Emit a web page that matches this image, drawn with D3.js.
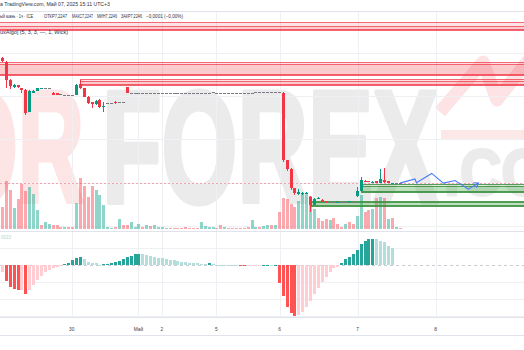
<!DOCTYPE html>
<html>
<head>
<meta charset="utf-8">
<script src="https://cdn.jsdelivr.net/npm/d3@7/dist/d3.min.js"></script>
<style>
  html, body { margin: 0; padding: 0; background: #fff; overflow: hidden; }
  #chart svg { display: block; }
</style>
</head>
<body>
<div id="chart"></div>
<script>
// hourly bars [open, high, low, close]; a single number is a flat bar (o = h = l = c)
const ohlc = [
  [7.2969, 7.2975, 7.2946, 7.2952],
  [7.2946, 7.2952, 7.2796, 7.2842],
  [7.2842, 7.2846, 7.2788, 7.2808],
  [7.2800, 7.2818, 7.2797, 7.2814],
  [7.2811, 7.2814, 7.2797, 7.2800],
  [7.2794, 7.2796, 7.2769, 7.2785],
  [7.2785, 7.2788, 7.2640, 7.2650],
  [7.2659, 7.2785, 7.2655, 7.2781],
  [7.2769, 7.2785, 7.2767, 7.2781],
  [7.2781, 7.2799, 7.2779, 7.2796],
  [7.2794, 7.2796, 7.2794, 7.2796],
  7.2794, 7.2794,
  [7.2769, 7.2771, 7.2754, 7.2756],
  [7.2767, 7.2769, 7.2754, 7.2756],
  [7.2756, 7.2764, 7.2754, 7.2762],
  7.2756, 7.2756, 7.2756,
  [7.2756, 7.2817, 7.2754, 7.2814],
  [7.2818, 7.2842, 7.2792, 7.2794],
  [7.2794, 7.2796, 7.2744, 7.2746],
  [7.2746, 7.2748, 7.2705, 7.2708],
  [7.2714, 7.2717, 7.2679, 7.2704],
  [7.2704, 7.2727, 7.2700, 7.2723],
  [7.2727, 7.2730, 7.2682, 7.2685],
  [7.2685, 7.2717, 7.2659, 7.2692],
  7.2708, 7.2708,
  [7.2717, 7.2719, 7.2706, 7.2708],
  7.2714, 7.2714,
  [7.2800, 7.2802, 7.2767, 7.2769],
  7.2769, 7.2769, 7.2769, 7.2769, 7.2769, 7.2769, 7.2769,
  7.2769, 7.2769, 7.2769, 7.2769, 7.2769, 7.2769, 7.2769,
  7.2769, 7.2769, 7.2769, 7.2769, 7.2769, 7.2769, 7.2769,
  7.2775,
  7.2767, 7.2767, 7.2767, 7.2767, 7.2767, 7.2767, 7.2767, 7.2767, 7.2767, 7.2767,
  7.2771, 7.2771, 7.2771, 7.2771, 7.2771, 7.2771, 7.2771,
  [7.2769, 7.2771, 7.2369, 7.2381],
  [7.2381, 7.2383, 7.2317, 7.2329],
  [7.2329, 7.2334, 7.2207, 7.2219],
  [7.2219, 7.2221, 7.2178, 7.2190],
  [7.2184, 7.2213, 7.2178, 7.2196],
  [7.2184, 7.2196, 7.2181, 7.2190],
  [7.2190, 7.2196, 7.2186, 7.2192],
  [7.2167, 7.2170, 7.2080, 7.2121],
  [7.2122, 7.2161, 7.2119, 7.2157],
  [7.2157, 7.2164, 7.2155, 7.2161],
  [7.2151, 7.2155, 7.2136, 7.2138],
  [7.2142, 7.2144, 7.2135, 7.2136],
  7.2138, 7.2138,
  [7.2135, 7.2142, 7.2133, 7.2140],
  7.2140, 7.2140,
  [7.2140, 7.2144, 7.2140, 7.2142],
  7.2140,
  [7.2171, 7.2225, 7.2167, 7.2200],
  [7.2200, 7.2284, 7.2198, 7.2267],
  [7.2261, 7.2265, 7.2251, 7.2253],
  [7.2259, 7.2261, 7.2251, 7.2253],
  [7.2253, 7.2257, 7.2251, 7.2255],
  [7.2257, 7.2259, 7.2248, 7.2249],
  [7.2249, 7.2329, 7.2248, 7.2271],
  [7.2265, 7.2334, 7.2248, 7.2255],
  [7.2259, 7.2261, 7.2246, 7.2248],
  [7.2248, 7.2249, 7.2247, 7.2248],
  7.2247,
  [7.2247, 7.2247, 7.2246, 7.2246],
]

const volumes = [
  217, 480, 393, 210, 303, 450, 377, 417, 353, 193,
  37, 73, 50, 40, 40, 20, 20, 17, 23, 257,
  507, 430, 323, 430, 390, 340, 240, 20, 10, 20,
  97, 40, 40, 70, 20, 50, 20, 40, 30, 40,
  20, 23, 10, 10, 10, 15, 10, 20, 10, 15,
  10, 73, 30, 20, 20, 10, 40, 20, 15, 10,
  15, 10, 15, 20, 90, 20, 20, 30, 40, 40,
  43, 173, 315, 300, 250, 223, 280, 350, 355, 330,
  200, 110, 83, 100, 90, 110, 50, 23, 50, 67,
  50, 135, 340, 170, 190, 200, 310, 317, 310, 100,
  110, 20, 15,
]
// g = up volume, r = down volume
const volumeDirs =
  'rrrgrrrggg' + 'rggrrrgrrg' + 'rrrrgggggr' + 'grrgggrgrg' + 'gggrrrrrrr' +
  'rggggrrgrr' + 'rrrrggrggr' + 'grrrrrgggg' + 'grrrgrrrgr' + 'rggrrgrgrg' + 'rgr'

// oscillator histogram (lower pane)
const histogram = [
  -6.4, -15.7, -21.4, -24, -25, -24.5, -29, -24.7, -19.7, -14.7,
  -10.3, -7, -4.7, -3, -2, -1, 1.3, 2.7, 5.3, 7,
  8, 6, 3.7, 2.7, 2, 0.8, 1, 1.3, 2, 3.7,
  4.7, 6, 8, 9.7, 11, 11.3, 11, 10.3, 9.7, 8.7,
  7.7, 7, 6.3, 5.7, 5, 4.3, 3.7, 3, 2.7, 2.3,
  2, 1.7, 1.3, 2, 1, 0.8, 0.7, 0.6, 0.5, 0.4,
  0.3, -0.3, -0.4, -0.4, -0.3, -0.2, -0.2, 0.3, 0.4, 0.3,
  0.3, -18, -31, -42, -48, -50.5, -49.5, -47, -42, -36,
  -29, -23, -17, -11.5, -6.5, -3, -1.2, 2.6, 6, 8.6,
  11.3, 15.3, 21, 24.6, 26, 26.6, 26, 24.6, 23, 19.6,
  17, null, null,
]

const dayTickIndex = [17.9, 35, 41, 55, 71.2, 91.2, 111.2]
const dayTickLabels = ['30', 'Май', '2', '5', '6', '7', '8']
const priceGrid = [7.325, 7.3, 7.275, 7.25, 7.225, 7.2]
const histGrid = [17, 0, -17, -34, -51]

const bearBlocks = [
  { from: -2, top: 7.3177, bottom: 7.3131 },
  { from: -2, top: 7.3157, bottom: 7.3137 },
  { from: -2, top: 7.2945, bottom: 7.2870 },
  { from: -2, top: 7.2935, bottom: 7.2877 },
  { from: 20, top: 7.2846, bottom: 7.2815 },
  { from: 20, top: 7.2837, bottom: 7.2821 },
]
const bullBlocks = [
  { from: 92, top: 7.2242, bottom: 7.2197 },
  { from: 92, top: 7.2233, bottom: 7.2204 },
  { from: 79, top: 7.2146, bottom: 7.2117 },
  { from: 79, top: 7.2138, bottom: 7.2122 },
]

const forecastIndex = [102.1, 105.9, 106.3, 110.2, 113.2, 116.2, 119.6, 122.2]
const forecastPrice = [7.2247, 7.2271, 7.2250, 7.2303, 7.2247, 7.2262, 7.2212, 7.2247]
const lastPrice = 7.2246

const headerTitle = 'а TradingView.com, Май 07, 2025 15:11 UTC+3'
const legendParts = ['ый юань · 1ч · ICE', 'ОТКР7,2247', 'МАКС7,2247', 'МИН7,2246', 'ЗАКР7,2246', '−0,0001 (−0,00%)']
const indicatorTitle = 'uxAlgo] (5, 3, 3, —, 1, Wick)'
const histLabel = '0010'

renderChart({ chartContainerSelector: '#chart', width: 524, height: 350 })

function renderChart({ chartContainerSelector, width, height }) {
  const upColor = '#089981'
  const downColor = '#f23645'
  const flatColor = '#787b86'
  const gridColor = '#eef0f4'
  const font = "'Liberation Sans', Arial, sans-serif"

  const paneTop = 11
  const paneSplit = 231
  const paneBottom = 317
  const axisBottom = 335

  const x = d3.scaleLinear().domain([0, 1]).range([1.9, 5.8])
  const y = d3.scaleLinear().domain([7.3, 7.275]).range([52.7, 96])
  const yVol = d3.scaleLinear().domain([0, 500]).range([229, 179])
  const yHist = d3.scaleLinear().domain([0, 17]).range([265.3, 248.3])

  const bars = ohlc.map((d, i) => {
    const [o, h, l, c] = Array.isArray(d) ? d : [d, d, d, d]
    const flat = o === c && h === l
    return { i, o, h, l, c, color: flat ? flatColor : c >= o ? upColor : downColor }
  })
  const px = i => Math.round(x(i))

  const svg = d3
    .select(chartContainerSelector)
    .append('svg')
    .attr('width', width)
    .attr('height', height)
    .attr('viewBox', `0 0 ${width} ${height}`)
    .style('background', '#fff')
    .attr('font-family', font)

  // watermark
  const mark = svg.append('g').attr('font-weight', 700).attr('stroke-linejoin', 'round')
  mark
    .append('text')
    .attr('x', -110)
    .attr('y', 202)
    .attr('font-size', 160)
    .attr('textLength', 194)
    .attr('lengthAdjust', 'spacingAndGlyphs')
    .attr('fill', '#fde5e5')
    .attr('stroke', '#fde5e5')
    .attr('stroke-width', 5)
    .text('FOR')
  mark
    .append('text')
    .attr('x', 102)
    .attr('y', 202)
    .attr('font-size', 160)
    .attr('textLength', 336)
    .attr('lengthAdjust', 'spacingAndGlyphs')
    .attr('fill', '#ebebeb')
    .attr('stroke', '#ebebeb')
    .attr('stroke-width', 5)
    .text('FOREX')
  mark
    .append('text')
    .attr('x', 444)
    .attr('y', 195)
    .attr('font-size', 64)
    .attr('textLength', 150)
    .attr('lengthAdjust', 'spacingAndGlyphs')
    .attr('fill', '#ebebeb')
    .attr('stroke', '#ebebeb')
    .attr('stroke-width', 3)
    .text('.COM')
  mark
    .append('polyline')
    .attr('points', '440,112 483,62 497,100 535,52')
    .attr('fill', 'none')
    .attr('stroke', '#fde3e3')
    .attr('stroke-width', 13)
  mark
    .append('rect')
    .attr('x', 441)
    .attr('y', 130)
    .attr('width', 90)
    .attr('height', 10)
    .attr('fill', '#fde8e8')

  // grid
  const grid = svg.append('g').attr('shape-rendering', 'crispEdges').attr('stroke', gridColor)
  grid
    .selectAll('line.v')
    .data(dayTickIndex)
    .join('line')
    .attr('x1', d => Math.round(x(d)) + 0.5)
    .attr('x2', d => Math.round(x(d)) + 0.5)
    .attr('y1', paneTop)
    .attr('y2', paneBottom)
  grid
    .selectAll('line.p')
    .data(priceGrid.filter(p => y(p) > paneTop && y(p) < paneSplit))
    .join('line')
    .attr('x1', 0)
    .attr('x2', width)
    .attr('y1', d => Math.round(y(d)) + 0.5)
    .attr('y2', d => Math.round(y(d)) + 0.5)
  grid
    .selectAll('line.h')
    .data(histGrid.filter(v => v !== 0))
    .join('line')
    .attr('x1', 0)
    .attr('x2', width)
    .attr('y1', d => Math.round(yHist(d)) + 0.5)
    .attr('y2', d => Math.round(yHist(d)) + 0.5)

  // pane borders
  const borders = svg.append('g').attr('shape-rendering', 'crispEdges').attr('stroke', '#e0e3eb')
  ;[paneTop, paneSplit, paneBottom, axisBottom].forEach(v => {
    borders.append('line').attr('x1', 0).attr('x2', width).attr('y1', v + 0.5).attr('y2', v + 0.5)
  })

  // last price line
  svg
    .append('line')
    .attr('x1', 0)
    .attr('x2', width)
    .attr('y1', Math.round(y(lastPrice)) + 0.5)
    .attr('y2', Math.round(y(lastPrice)) + 0.5)
    .attr('stroke', 'rgba(242,54,69,0.4)')
    .attr('stroke-dasharray', '2,2')
    .attr('shape-rendering', 'crispEdges')

  // volume
  svg
    .append('g')
    .attr('shape-rendering', 'crispEdges')
    .selectAll('rect')
    .data(volumes)
    .join('rect')
    .attr('x', (d, i) => px(i) - 1)
    .attr('width', 3)
    .attr('y', d => yVol(d))
    .attr('height', d => yVol(0) - yVol(d))
    .attr('fill', (d, i) => (volumeDirs[i] === 'g' ? 'rgba(34,171,148,0.5)' : 'rgba(247,82,95,0.5)'))

  // order blocks
  const drawBlocks = (blocks, fill, stroke) => {
    svg
      .append('g')
      .attr('shape-rendering', 'crispEdges')
      .selectAll('rect')
      .data(blocks)
      .join('rect')
      .attr('x', d => Math.round(x(d.from)) + 0.5)
      .attr('y', d => Math.round(y(d.top)) + 0.5)
      .attr('width', d => width + 10 - x(d.from))
      .attr('height', d => Math.round(y(d.bottom)) - Math.round(y(d.top)))
      .attr('fill', fill)
      .attr('stroke', stroke)
  }
  drawBlocks(bearBlocks, 'rgba(242,54,69,0.14)', 'rgba(242,54,69,0.75)')
  drawBlocks(bullBlocks, 'rgba(76,175,80,0.2)', 'rgba(56,142,60,0.85)')

  // candles
  const candleG = svg.append('g').attr('shape-rendering', 'crispEdges')
  candleG
    .selectAll('line')
    .data(bars)
    .join('line')
    .attr('x1', d => px(d.i) + 0.5)
    .attr('x2', d => px(d.i) + 0.5)
    .attr('y1', d => y(d.h))
    .attr('y2', d => y(d.l))
    .attr('stroke', d => d.color)
  candleG
    .selectAll('rect')
    .data(bars)
    .join('rect')
    .attr('x', d => px(d.i) - 1)
    .attr('width', 3)
    .attr('y', d => Math.round(y(Math.max(d.o, d.c))))
    .attr('height', d => Math.max(1, Math.round(y(Math.min(d.o, d.c))) - Math.round(y(Math.max(d.o, d.c)))))
    .attr('fill', d => d.color)

  // forecast path
  const fpts = forecastIndex.map((d, i) => [x(d), y(forecastPrice[i])])
  svg
    .append('path')
    .attr('d', d3.line()(fpts))
    .attr('fill', 'none')
    .attr('stroke', '#4a78ff')
    .attr('stroke-width', 1.1)
  const [ax, ay] = fpts[fpts.length - 1]
  const [bx, by] = fpts[fpts.length - 2]
  const ang = Math.atan2(ay - by, ax - bx)
  const head = [ang - 0.6, ang + 0.6].map(a => [ax - 5 * Math.cos(a), ay - 5 * Math.sin(a)])
  svg
    .append('path')
    .attr('d', d3.line()([head[0], [ax, ay], head[1]]))
    .attr('fill', 'none')
    .attr('stroke', '#4a78ff')
    .attr('stroke-width', 1.1)

  // oscillator pane
  svg
    .append('line')
    .attr('x1', 0)
    .attr('x2', width)
    .attr('y1', Math.round(yHist(0)) + 0.5)
    .attr('y2', Math.round(yHist(0)) + 0.5)
    .attr('stroke', '#c9ccd3')
    .attr('stroke-dasharray', '3,3')
    .attr('shape-rendering', 'crispEdges')

  const histData = histogram
    .map((v, i) => ({ v, i, prev: i > 0 ? histogram[i - 1] : null }))
    .filter(d => d.v !== null)
  svg
    .append('g')
    .attr('shape-rendering', 'crispEdges')
    .selectAll('rect')
    .data(histData)
    .join('rect')
    .attr('x', d => px(d.i) - 1)
    .attr('width', 3)
    .attr('y', d => (d.v >= 0 ? Math.round(yHist(d.v)) : Math.round(yHist(0))))
    .attr('height', d => Math.max(1, Math.abs(Math.round(yHist(d.v)) - Math.round(yHist(0)))))
    .attr('fill', d => {
      const rising = d.prev === null || d.v >= d.prev
      if (d.v >= 0) return rising ? '#26a69a' : '#b2dfdb'
      return rising ? '#ffcdd2' : '#ff5252'
    })

  svg
    .append('text')
    .attr('x', 1)
    .attr('y', 238.5)
    .attr('font-size', 4.5)
    .attr('fill', '#a8d8d2')
    .text(histLabel)

  // time axis
  svg
    .append('g')
    .selectAll('text')
    .data(dayTickIndex)
    .join('text')
    .attr('x', d => x(d))
    .attr('y', 330.8)
    .attr('text-anchor', 'middle')
    .attr('font-size', 4.8)
    .attr('fill', '#3d404a')
    .text((d, i) => dayTickLabels[i])

  // header
  const header = svg.append('g').attr('fill', '#2f323c').attr('font-size', 4.8)
  header
    .append('text')
    .attr('x', 0)
    .attr('y', 5.8)
    .attr('textLength', 110)
    .attr('lengthAdjust', 'spacingAndGlyphs')
    .text(headerTitle)
  const legendX = [0, 44, 72, 97, 121, 146]
  const legendW = [33, 23, 21, 20, 21, 37]
  header
    .selectAll('text.legend')
    .data(legendParts)
    .join('text')
    .attr('x', (d, i) => legendX[i])
    .attr('y', 17.8)
    .attr('textLength', (d, i) => legendW[i])
    .attr('lengthAdjust', 'spacingAndGlyphs')
    .text(d => d)
  header
    .append('text')
    .attr('x', 0)
    .attr('y', 33.8)
    .attr('textLength', 68)
    .attr('lengthAdjust', 'spacingAndGlyphs')
    .text(indicatorTitle)
}
</script>
</body>
</html>
